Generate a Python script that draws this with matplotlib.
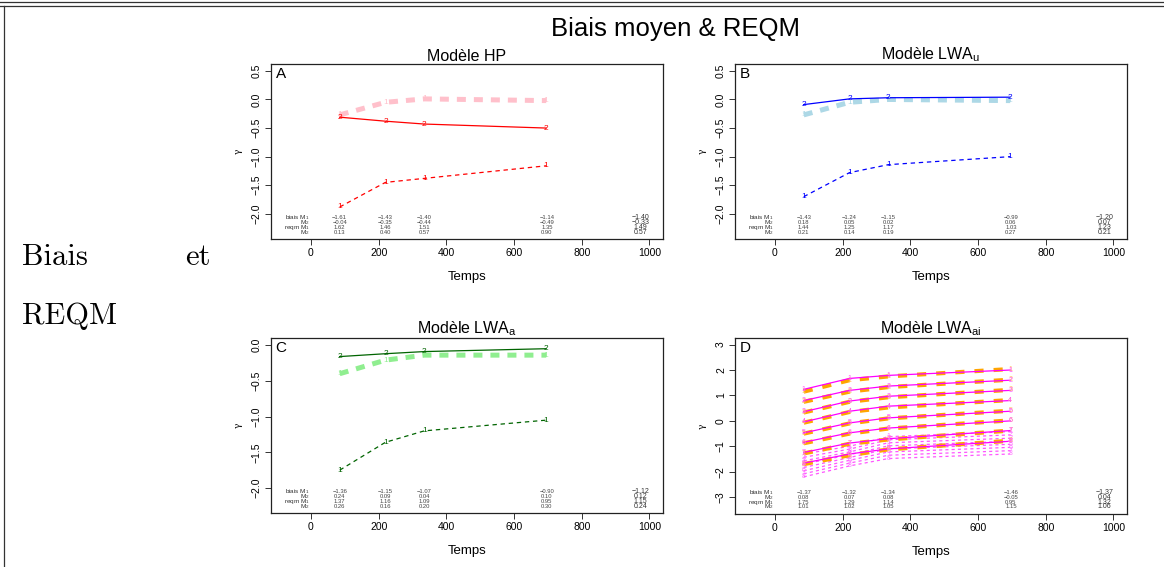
import matplotlib
matplotlib.use("Agg")
import matplotlib.pyplot as plt
from matplotlib.lines import Line2D
import matplotlib.transforms as mtransforms

plt.rcParams["font.family"] = ["Liberation Sans", "DejaVu Sans"]

# time points (days) and the overall column
temps = [85, 220, 335, 695]
col_x = [85, 220, 335, 697, 973]

# panel A - Modèle HP
hp_m1 = [-1.88, -1.45, -1.38, -1.16]
hp_m2 = [-0.31, -0.38, -0.43, -0.50]
hp_vrai = [-0.27, -0.05, 0.01, -0.02]
hp_table = [["-1.61", "-1.43", "-1.40", "-1.14", "-1.40"],
            ["-0.04", "-0.35", "-0.44", "-0.49", "-0.33"],
            ["1.62", "1.46", "1.51", "1.35", "1.49"],
            ["0.13", "0.40", "0.57", "0.90", "0.57"]]

# panel B - LWA_u
u_m1 = [-1.70, -1.28, -1.14, -1.00]
u_m2 = [-0.09, 0.01, 0.03, 0.04]
u_vrai = [-0.27, -0.05, 0.00, -0.02]
u_table = [["-1.43", "-1.24", "-1.15", "-0.99", "-1.20"],
           ["0.18", "0.05", "0.02", "0.06", "0.07"],
           ["1.44", "1.25", "1.17", "1.03", "1.23"],
           ["0.21", "0.14", "0.19", "0.27", "0.21"]]

# panel C - LWA_a
a_m1 = [-1.75, -1.36, -1.20, -1.05]
a_m2 = [-0.16, -0.12, -0.09, -0.05]
a_vrai = [-0.40, -0.21, -0.14, -0.14]
a_table = [["-1.36", "-1.15", "-1.07", "-0.90", "-1.12"],
           ["0.24", "0.09", "0.04", "0.10", "0.12"],
           ["1.37", "1.16", "1.09", "0.95", "1.15"],
           ["0.26", "0.16", "0.20", "0.30", "0.24"]]

# panel D - LWA_ai, one list per group (8 groups), values at the 4 time points
ai_m2 = [[1.24, 1.67, 1.79, 2.00],
         [0.80, 1.20, 1.37, 1.60],
         [0.36, 0.78, 0.97, 1.20],
         [-0.04, 0.38, 0.58, 0.80],
         [-0.47, -0.08, 0.12, 0.38],
         [-0.84, -0.47, -0.28, 0.00],
         [-1.24, -0.87, -0.70, -0.38],
         [-1.66, -1.30, -1.10, -0.80]]
ai_vrai = [[1.15, 1.60, 1.75, 2.04],
           [0.75, 1.15, 1.33, 1.62],
           [0.33, 0.75, 0.93, 1.22],
           [-0.07, 0.35, 0.53, 0.82],
           [-0.50, -0.10, 0.10, 0.40],
           [-0.88, -0.50, -0.30, 0.02],
           [-1.28, -0.90, -0.73, -0.38],
           [-1.70, -1.35, -1.12, -0.78]]
ai_m1 = [[-1.30, -1.00, -0.62, -0.42],
         [-1.43, -1.11, -0.74, -0.55],
         [-1.57, -1.22, -0.86, -0.68],
         [-1.70, -1.33, -0.98, -0.80],
         [-1.83, -1.44, -1.10, -0.92],
         [-1.96, -1.55, -1.22, -1.04],
         [-2.08, -1.66, -1.35, -1.17],
         [-2.20, -1.77, -1.48, -1.30]]
ai_table = [["-1.37", "-1.32", "-1.34", "-1.46", "-1.37"],
            ["0.08", "0.07", "0.08", "-0.05", "0.04"],
            ["1.75", "1.29", "1.14", "0.95", "1.32"],
            ["1.01", "1.02", "1.05", "1.15", "1.06"]]

row_names = ["biais M$_\\mathregular{1}$", "M$_\\mathregular{2}$",
             "reqm M$_\\mathregular{1}$", "M$_\\mathregular{2}$"]

W, H = 1164, 567
fig = plt.figure(figsize=(W / 100, H / 100), dpi=100)


def px_axes(left, top, right, bottom):
    return fig.add_axes([left / W, 1 - bottom / H, (right - left) / W, (bottom - top) / H])


def series(ax, y, color, lab, lw=0.9, dash=None, lab_color=None, fs=6):
    if dash is None:
        ax.plot(temps, y, color=color, lw=lw, zorder=2)
    else:
        ax.plot(temps, y, color=color, lw=lw, dashes=dash, zorder=2)
    for xi, yi in zip(temps, y):
        ax.text(xi, yi, lab, color=lab_color or color, fontsize=fs,
                ha="center", va="center", zorder=3)


def fmt(t):
    s = f"{t:.1f}" if isinstance(t, float) else str(t)
    return s.replace("-", "\u2212")


def style(ax, letter, title, ylim, yticks):
    ax.set_xlim(-118, 1040)
    ax.set_ylim(*ylim)
    ax.set_xticks([0, 200, 400, 600, 800, 1000])
    ax.set_yticks(yticks)
    ax.set_yticklabels([fmt(t) for t in yticks], rotation=90, va="center")
    ax.tick_params(labelsize=7.5, length=4, width=0.7, pad=2.5, color="#333333")
    for s in ax.spines.values():
        s.set_linewidth(0.9)
        s.set_color("#222222")
    ax.set_title(title, fontsize=11.5, pad=2)
    ax.set_xlabel("Temps", fontsize=9.5, labelpad=9)
    ax.set_ylabel("\u03b3", fontsize=6.5, labelpad=7, family="DejaVu Serif")
    ax.text(0.012, 0.985, letter, transform=ax.transAxes, fontsize=11,
            ha="left", va="top")


def table(ax, rows, ys):
    tr = mtransforms.blended_transform_factory(ax.transData, ax.transAxes)
    for name, yy in zip(row_names, ys):
        ax.text(-4, yy, name, transform=tr, fontsize=4.6, ha="right", va="center",
                color="#333333")
    for vals, yy in zip(rows, ys):
        for j, (x, v) in enumerate(zip(col_x, vals)):
            v = v.replace("-", "\u2212")
            if j == 4:
                ax.text(x, yy, v, transform=tr, fontsize=5.0, ha="center",
                        va="center", color="#333333")
            else:
                ax.text(x, yy, v, transform=tr, fontsize=4.2, ha="center",
                        va="center", color="#444444")


row_y = [0.122, 0.094, 0.066, 0.038]
dash_thin = (3.5, 3)
dash_thick = (1.8, 1.6)

# A
axA = px_axes(271, 64, 663, 239)
series(axA, hp_vrai, "#FFC0CB", "1", lw=3.6, dash=dash_thick)
series(axA, hp_m2, "#FF0000", "2", lw=0.9)
series(axA, hp_m1, "#FF0000", "1", lw=0.9, dash=dash_thin)
style(axA, "A", "Modèle HP", (-2.44, 0.62), [0.5, 0.0, -0.5, -1.0, -1.5, -2.0])
table(axA, hp_table, row_y)

# B
axB = px_axes(735, 64, 1127, 239)
series(axB, u_vrai, "#ADD8E6", "1", lw=3.6, dash=dash_thick)
series(axB, u_m2, "#0000FF", "2", lw=0.9)
series(axB, u_m1, "#0000FF", "1", lw=0.9, dash=dash_thin)
style(axB, "B", "Modèle LWA$_\\mathregular{u}$", (-2.44, 0.62),
      [0.5, 0.0, -0.5, -1.0, -1.5, -2.0])
table(axB, u_table, row_y)

# C
axC = px_axes(271, 338, 663, 513)
series(axC, a_vrai, "#90EE90", "1", lw=3.6, dash=dash_thick)
series(axC, a_m2, "#006400", "2", lw=0.9)
series(axC, a_m1, "#006400", "1", lw=0.9, dash=dash_thin)
style(axC, "C", "Modèle LWA$_\\mathregular{a}$", (-2.35, 0.10),
      [0.0, -0.5, -1.0, -1.5, -2.0])
table(axC, a_table, row_y)

# D
axD = px_axes(735, 338, 1127, 514)
for k in range(8):
    lab = str(k + 1)
    series(axD, ai_m1[k], "#FF55FF", lab, lw=0.9, dash=(2.5, 2.5), lab_color="#FF77FF", fs=5)
for k in range(8):
    lab = str(k + 1)
    series(axD, ai_vrai[k], "#FFA500", lab, lw=3.0, dash=(2.2, 2.4), lab_color="#FFC060", fs=5)
    series(axD, ai_m2[k], "#FF00FF", lab, lw=0.9, lab_color="#FF55FF", fs=5)
style(axD, "D", "Modèle LWA$_\\mathregular{ai}$", (-3.66, 3.26), [3, 2, 1, 0, -1, -2, -3])
table(axD, ai_table, [0.121, 0.093, 0.066, 0.040])

fig.text(675 / W, 1 - 29 / H, "Biais moyen & REQM", fontsize=18.5, ha="center", va="center")

# surrounding table cell
fig.add_artist(Line2D([0, 1], [1 - 1.5 / H, 1 - 1.5 / H], color="#333333", lw=0.9))
fig.add_artist(Line2D([0, 1], [1 - 6 / H, 1 - 6 / H], color="#333333", lw=0.9))
fig.add_artist(Line2D([4 / W, 4 / W], [0, 1 - 6 / H], color="#333333", lw=0.9))

fig.text(22 / W, 1 - 257 / H, "Biais", fontsize=22, family="cmr10", ha="left", va="center")
fig.text(211 / W, 1 - 257 / H, "et", fontsize=22, family="cmr10", ha="right", va="center")
fig.text(22 / W, 1 - 316 / H, "REQM", fontsize=22, family="cmr10", ha="left", va="center")

fig.savefig("out.png", dpi=100)
